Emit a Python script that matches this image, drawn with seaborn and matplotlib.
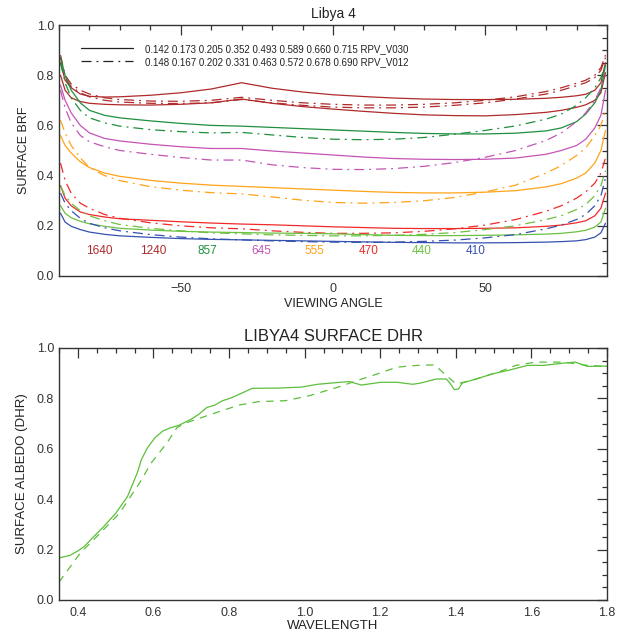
import numpy as np
import pandas as pd
import matplotlib
matplotlib.use("Agg")
import matplotlib.pyplot as plt
from matplotlib.lines import Line2D
from matplotlib.ticker import MultipleLocator
import seaborn as sns

# ---------------- data: top panel (RPV BRF vs viewing angle) ----------------
angles = [-89.5, -88, -86, -83, -80, -75, -70, -60, -50, -40, -30, -20, -10, 0,
          10, 20, 30, 40, 50, 60, 70, 75, 80, 83, 86, 88, 89.5]

bands = ["1640", "1240", "857", "645", "555", "470", "440", "410"]
band_colors = ["#B02A2A", "#B02A2A", "#1F8F3F", "#C455B5", "#FFA31A", "#F02A2A", "#6CC040", "#3551B0"]

v030_1640 = [0.85, 0.78, 0.75, 0.725, 0.716, 0.713, 0.714, 0.72, 0.73, 0.745, 0.770, 0.748, 0.733, 0.722,
             0.715, 0.709, 0.705, 0.703, 0.703, 0.704, 0.708, 0.712, 0.718, 0.724, 0.74, 0.77, 0.85]
v030_1240 = [0.80, 0.74, 0.71, 0.695, 0.688, 0.684, 0.682, 0.681, 0.684, 0.69, 0.705, 0.688, 0.675, 0.665,
             0.656, 0.648, 0.642, 0.639, 0.638, 0.643, 0.652, 0.66, 0.672, 0.682, 0.70, 0.73, 0.81]
v030_857 = [0.87, 0.80, 0.74, 0.69, 0.66, 0.64, 0.63, 0.618, 0.608, 0.60, 0.597, 0.592, 0.587, 0.582,
            0.577, 0.572, 0.568, 0.566, 0.566, 0.569, 0.578, 0.59, 0.615, 0.645, 0.69, 0.74, 0.84]
v030_645 = [0.76, 0.70, 0.65, 0.60, 0.57, 0.548, 0.538, 0.525, 0.515, 0.508, 0.508, 0.498, 0.49, 0.482,
            0.474, 0.468, 0.465, 0.464, 0.465, 0.47, 0.485, 0.50, 0.52, 0.545, 0.59, 0.64, 0.74]
v030_555 = [0.56, 0.52, 0.49, 0.455, 0.432, 0.41, 0.397, 0.381, 0.37, 0.362, 0.357, 0.352, 0.347, 0.342,
            0.337, 0.333, 0.331, 0.331, 0.334, 0.34, 0.355, 0.368, 0.39, 0.41, 0.45, 0.50, 0.58]
v030_470 = [0.36, 0.31, 0.28, 0.255, 0.245, 0.235, 0.228, 0.222, 0.216, 0.211, 0.207, 0.204, 0.200, 0.196,
            0.193, 0.19, 0.189, 0.189, 0.19, 0.192, 0.198, 0.203, 0.212, 0.22, 0.24, 0.27, 0.33]
v030_440 = [0.28, 0.25, 0.232, 0.218, 0.208, 0.198, 0.19, 0.183, 0.178, 0.175, 0.173, 0.171, 0.170, 0.168,
            0.165, 0.162, 0.161, 0.161, 0.162, 0.164, 0.167, 0.17, 0.176, 0.182, 0.195, 0.215, 0.27]
v030_410 = [0.25, 0.215, 0.198, 0.185, 0.175, 0.166, 0.16, 0.154, 0.149, 0.146, 0.144, 0.142, 0.14, 0.138,
            0.136, 0.134, 0.133, 0.132, 0.132, 0.133, 0.135, 0.137, 0.14, 0.145, 0.155, 0.172, 0.21]

v012_1640 = [0.88, 0.80, 0.765, 0.74, 0.725, 0.71, 0.703, 0.697, 0.696, 0.70, 0.712, 0.70, 0.69, 0.684,
             0.681, 0.681, 0.684, 0.690, 0.70, 0.714, 0.735, 0.75, 0.768, 0.78, 0.80, 0.83, 0.88]
v012_1240 = [0.87, 0.79, 0.755, 0.73, 0.714, 0.70, 0.693, 0.688, 0.687, 0.69, 0.703, 0.69, 0.68, 0.673,
             0.67, 0.67, 0.673, 0.68, 0.69, 0.705, 0.725, 0.74, 0.758, 0.77, 0.79, 0.82, 0.87]
v012_857 = [0.85, 0.77, 0.71, 0.66, 0.63, 0.61, 0.597, 0.583, 0.575, 0.57, 0.572, 0.562, 0.552, 0.545,
            0.543, 0.545, 0.552, 0.565, 0.58, 0.598, 0.625, 0.645, 0.68, 0.71, 0.75, 0.79, 0.84]
v012_645 = [0.74, 0.67, 0.61, 0.56, 0.535, 0.515, 0.50, 0.485, 0.472, 0.462, 0.462, 0.443, 0.432, 0.425,
            0.424, 0.428, 0.437, 0.452, 0.473, 0.50, 0.54, 0.57, 0.615, 0.65, 0.70, 0.75, 0.80]
v012_555 = [0.62, 0.57, 0.52, 0.47, 0.432, 0.40, 0.38, 0.356, 0.342, 0.332, 0.327, 0.315, 0.302, 0.293,
            0.29, 0.293, 0.30, 0.313, 0.335, 0.362, 0.41, 0.44, 0.48, 0.51, 0.56, 0.60, 0.66]
v012_470 = [0.45, 0.38, 0.33, 0.29, 0.27, 0.245, 0.23, 0.212, 0.20, 0.192, 0.188, 0.18, 0.174, 0.170,
            0.17, 0.172, 0.178, 0.188, 0.203, 0.225, 0.258, 0.28, 0.31, 0.335, 0.37, 0.41, 0.47]
v012_440 = [0.36, 0.32, 0.29, 0.26, 0.24, 0.22, 0.205, 0.19, 0.18, 0.172, 0.168, 0.164, 0.162, 0.160,
            0.16, 0.162, 0.166, 0.173, 0.185, 0.2, 0.225, 0.24, 0.265, 0.285, 0.32, 0.36, 0.42]
v012_410 = [0.33, 0.29, 0.26, 0.23, 0.21, 0.192, 0.18, 0.165, 0.155, 0.148, 0.144, 0.14, 0.137, 0.135,
            0.134, 0.135, 0.138, 0.143, 0.152, 0.165, 0.188, 0.203, 0.225, 0.245, 0.28, 0.32, 0.39]

v030_params = "0.142 0.173 0.205 0.352 0.493 0.589 0.660 0.715 RPV_V030"
v012_params = "0.148 0.167 0.202 0.331 0.463 0.572 0.678 0.690 RPV_V012"

# ---------------- data: bottom panel (DHR spectrum) ----------------
wl_solid = [0.35, 0.379, 0.40, 0.416, 0.437, 0.468, 0.50, 0.531, 0.557, 0.568, 0.584, 0.604, 0.625,
            0.646, 0.667, 0.699, 0.72, 0.741, 0.762, 0.783, 0.804, 0.825, 0.861, 0.93, 0.992, 1.034,
            1.118, 1.15, 1.202, 1.244, 1.286, 1.307, 1.349, 1.375, 1.386, 1.396, 1.407, 1.417, 1.454,
            1.496, 1.538, 1.59, 1.632, 1.685, 1.716, 1.748, 1.8]
dhr_solid = [0.167, 0.177, 0.195, 0.211, 0.244, 0.291, 0.344, 0.41, 0.504, 0.557, 0.604, 0.644, 0.671,
             0.684, 0.693, 0.717, 0.737, 0.764, 0.773, 0.791, 0.801, 0.815, 0.84, 0.841, 0.845, 0.856,
             0.867, 0.853, 0.864, 0.864, 0.856, 0.861, 0.877, 0.877, 0.857, 0.835, 0.837, 0.861, 0.877,
             0.897, 0.911, 0.931, 0.931, 0.94, 0.944, 0.927, 0.928]
wl_dashed = [0.35, 0.405, 0.458, 0.51, 0.563, 0.594, 0.636, 0.662, 0.688, 0.741, 0.825, 0.877, 0.95,
             1.013, 1.087, 1.139, 1.192, 1.244, 1.297, 1.344, 1.37, 1.401, 1.454, 1.517, 1.559, 1.611,
             1.685, 1.748, 1.8]
dhr_dashed = [0.071, 0.184, 0.264, 0.344, 0.464, 0.544, 0.624, 0.684, 0.704, 0.731, 0.773, 0.787, 0.791,
              0.811, 0.844, 0.871, 0.897, 0.924, 0.931, 0.933, 0.897, 0.857, 0.877, 0.907, 0.931, 0.944,
              0.944, 0.931, 0.927]

# ---------------- build tables ----------------
v030 = [v030_1640, v030_1240, v030_857, v030_645, v030_555, v030_470, v030_440, v030_410]
v012 = [v012_1640, v012_1240, v012_857, v012_645, v012_555, v012_470, v012_440, v012_410]
rows = []
for b, s030, s012 in zip(bands, v030, v012):
    for a, y in zip(angles, s030):
        rows.append((a, y, b, "RPV_V030"))
    for a, y in zip(angles, s012):
        rows.append((a, y, b, "RPV_V012"))
df_top = pd.DataFrame(rows, columns=["angle", "brf", "band", "model"])

df_bot = pd.concat([
    pd.DataFrame({"wl": wl_solid, "dhr": dhr_solid, "kind": "solid"}),
    pd.DataFrame({"wl": wl_dashed, "dhr": dhr_dashed, "kind": "dashed"}),
])

# ---------------- style ----------------
sns.set_style("white")
plt.rcParams["font.family"] = ["Liberation Sans", "DejaVu Sans"]
plt.rcParams["axes.edgecolor"] = "#333333"
plt.rcParams["axes.linewidth"] = 1.0
plt.rcParams["xtick.color"] = "#333333"
plt.rcParams["ytick.color"] = "#333333"
plt.rcParams["text.color"] = "#222222"
plt.rcParams["axes.labelcolor"] = "#222222"

fig = plt.figure(figsize=(6.21, 6.38), dpi=100)
ax1 = fig.add_axes([59 / 621, 1 - 276 / 638, 548 / 621, 251 / 638])
ax2 = fig.add_axes([59 / 621, 1 - 600 / 638, 548 / 621, 252 / 638])

dd = (8, 4, 1.5, 4)
sns.lineplot(data=df_top, x="angle", y="brf", hue="band", style="model",
             hue_order=bands, palette=dict(zip(bands, band_colors)),
             style_order=["RPV_V030", "RPV_V012"],
             dashes={"RPV_V030": "", "RPV_V012": dd},
             sort=False, estimator=None, units=None, legend=False,
             linewidth=0.9, ax=ax1)

sns.lineplot(data=df_bot, x="wl", y="dhr", style="kind",
             style_order=["solid", "dashed"],
             dashes={"solid": "", "dashed": (6, 5)},
             color="#5CBF3A", sort=False, estimator=None, legend=False,
             linewidth=0.9, ax=ax2)


def idl_axes(ax, xmaj, xmin, ymaj, ymin):
    ax.xaxis.set_major_locator(MultipleLocator(xmaj))
    ax.xaxis.set_minor_locator(MultipleLocator(xmin))
    ax.yaxis.set_major_locator(MultipleLocator(ymaj))
    ax.yaxis.set_minor_locator(MultipleLocator(ymin))
    ax.tick_params(which="both", direction="in", top=True, right=True, width=0.9)
    ax.tick_params(which="major", length=7.5, labelsize=9)
    ax.tick_params(which="minor", length=3.5)
    ax.tick_params(axis="y", which="major", pad=3.5)
    ax.tick_params(axis="x", which="major", pad=5)
    for sp in ax.spines.values():
        sp.set_visible(True)


# top panel
ax1.set_xlim(-90, 90)
ax1.set_ylim(0, 1.0)
idl_axes(ax1, 50, 10, 0.2, 0.05)
ax1.set_xticks([-50, 0, 50])
ax1.yaxis.set_major_formatter(matplotlib.ticker.FormatStrFormatter("%.1f"))
ax1.set_title("Libya 4", fontsize=10, pad=5)
ax1.set_xlabel("VIEWING ANGLE", fontsize=9, labelpad=2)
ax1.set_ylabel("SURFACE BRF", fontsize=9, labelpad=5)

label_x = np.linspace(-76.6, 46.9, len(bands))
for lx, b, c in zip(label_x, bands, band_colors):
    ax1.text(lx, 0.10, b, color=c, fontsize=8.5, ha="center", va="center")

handles = [Line2D([], [], color="#222222", lw=0.9),
           Line2D([], [], color="#222222", lw=0.9, dashes=dd)]
ax1.legend(handles, [v030_params, v012_params], loc="upper left",
           bbox_to_anchor=(0.04, 0.925), frameon=False, fontsize=7,
           handlelength=5.4, handletextpad=1.2, labelspacing=0.3,
           borderpad=0, borderaxespad=0)

# bottom panel
ax2.set_xlim(0.35, 1.8)
ax2.set_ylim(0, 1.0)
idl_axes(ax2, 0.2, 0.05, 0.2, 0.05)
ax2.xaxis.set_major_formatter(matplotlib.ticker.FormatStrFormatter("%.1f"))
ax2.yaxis.set_major_formatter(matplotlib.ticker.FormatStrFormatter("%.1f"))
ax2.set_title("LIBYA4 SURFACE DHR", fontsize=12, pad=5)
ax2.set_xlabel("WAVELENGTH", fontsize=9.5, labelpad=1)
ax2.set_ylabel("SURFACE ALBEDO (DHR)", fontsize=9.5, labelpad=6)

fig.savefig("out.png", dpi=100)
